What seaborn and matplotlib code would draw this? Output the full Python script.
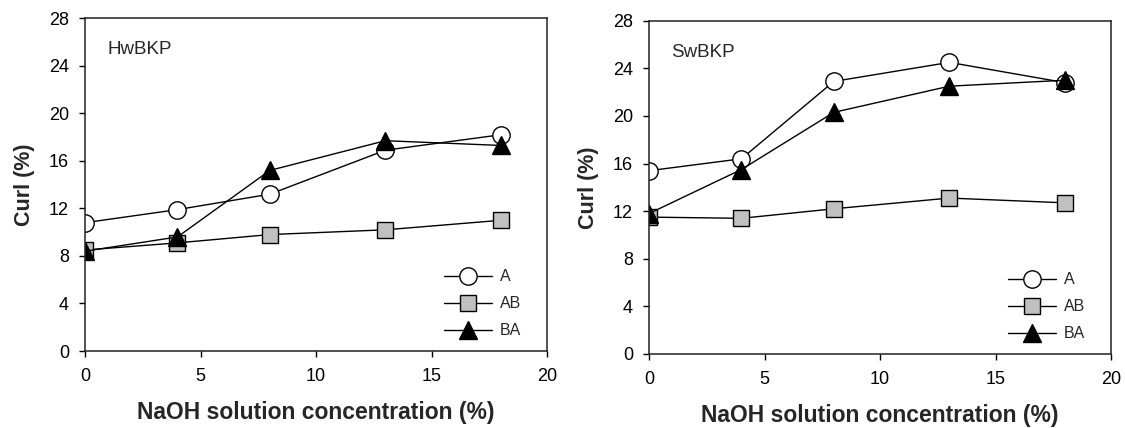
import matplotlib
matplotlib.use('Agg')
import matplotlib.pyplot as plt
import seaborn as sns

naoh = [0, 4, 8, 13, 18]
series_names = ['A', 'AB', 'BA']

hw_a = [10.8, 11.9, 13.2, 16.9, 18.2]
hw_ab = [8.5, 9.1, 9.8, 10.2, 11.0]
hw_ba = [8.4, 9.6, 15.2, 17.7, 17.3]

sw_a = [15.4, 16.4, 22.9, 24.5, 22.8]
sw_ab = [11.5, 11.4, 12.2, 13.1, 12.7]
sw_ba = [11.8, 15.5, 20.3, 22.5, 23.0]

panels = [
    ('HwBKP', [hw_a, hw_ab, hw_ba]),
    ('SwBKP', [sw_a, sw_ab, sw_ba]),
]

sns.set_style('ticks')
plt.rcParams['font.family'] = ['Liberation Sans', 'DejaVu Sans']

marker_styles = {
    'A': dict(marker='o', markerfacecolor='white', markersize=12.5),
    'AB': dict(marker='s', markerfacecolor='#c0c0c0', markersize=12),
    'BA': dict(marker='^', markerfacecolor='black', markersize=12.5),
}

fig = plt.figure(figsize=(11.25, 4.28), dpi=100)
axes = [
    fig.add_axes([0.0756, 0.1799, 0.4107, 0.7773]),
    fig.add_axes([0.5769, 0.1729, 0.4107, 0.7787]),
]

for ax, (title, values) in zip(axes, panels):
    for name, y in zip(series_names, values):
        sns.lineplot(x=naoh, y=y, ax=ax, color='black', linewidth=1.0,
                     markeredgecolor='black', markeredgewidth=1.0,
                     label=name, **marker_styles[name])
    ax.set_xlim(0, 20)
    ax.set_ylim(0, 28)
    ax.set_xticks(range(0, 21, 5))
    ax.set_yticks(range(0, 29, 4))
    ax.tick_params(direction='out', length=4.5, width=1.0, labelsize=13,
                   colors='black')
    ax.tick_params(axis='x', pad=8)
    ax.tick_params(axis='y', pad=7)
    for sp in ax.spines.values():
        sp.set_visible(True)
        sp.set_linewidth(1.1)
        sp.set_color('#222222')
    ax.set_xlabel('NaOH solution concentration (%)', fontsize=16.5,
                  fontweight='bold', labelpad=11)
    ax.set_ylabel('Curl (%)', fontsize=15.5, fontweight='bold', labelpad=10)
    ax.text(0.048, 0.905, title, transform=ax.transAxes, fontsize=13.5,
            va='center', ha='left')
    ax.legend(loc='lower right', frameon=False, fontsize=11.5,
              handlelength=3.0, handletextpad=0.5, labelspacing=0.75,
              bbox_to_anchor=(0.975, -0.005))

fig.savefig('out.png', dpi=100)
